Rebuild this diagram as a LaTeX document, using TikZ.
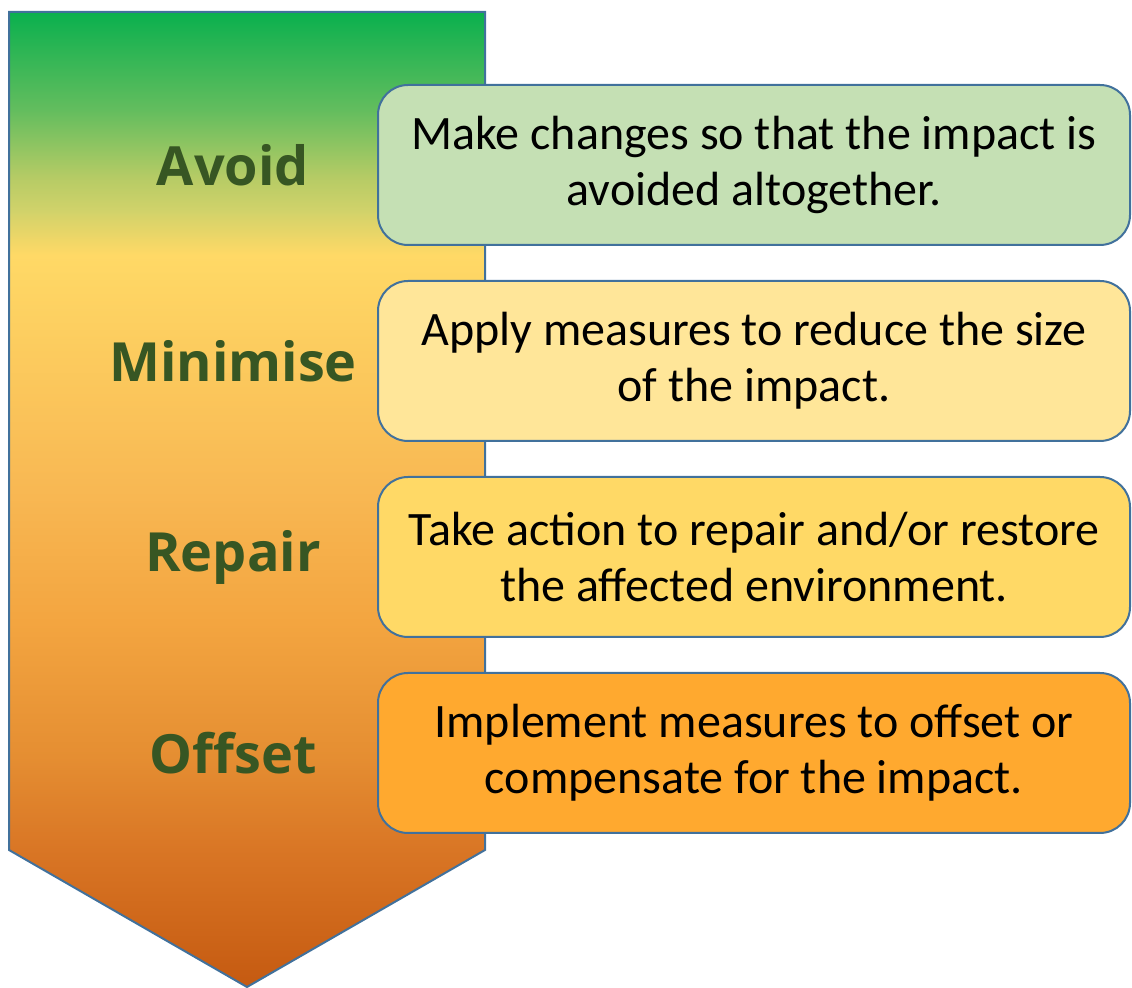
\documentclass[tikz,border=0pt]{standalone}
\usepackage{fontspec}
\setmainfont{Carlito}
\newfontfamily\stagefont{Open Sans}
\usepackage{xcolor}
\usetikzlibrary{positioning,calc}
\definecolor{edge}{HTML}{41719C}
\definecolor{stagec}{HTML}{375623}
\definecolor{avoidbg}{HTML}{C5E0B4}
\definecolor{minbg}{HTML}{FFE699}
\definecolor{repairbg}{HTML}{FFD966}
\definecolor{offsetbg}{HTML}{FFA92F}
% colour stops down the arrow, bottom to top
\definecolor{s0}{HTML}{C55A11}
\definecolor{s1}{HTML}{D97625}
\definecolor{s2}{HTML}{E58E32}
\definecolor{s3}{HTML}{F3A540}
\definecolor{s4}{HTML}{F8B853}
\definecolor{s5}{HTML}{FFD966}
\definecolor{s6}{HTML}{D0D26A}
\definecolor{s7}{HTML}{B5CB65}
\definecolor{s8}{HTML}{63BD5E}
\definecolor{s9}{HTML}{0AB04E}
\pgfdeclareverticalshading{descent}{100bp}{color(0bp)=(s0); color(25bp)=(s0);
  color(32.07bp)=(s1); color(36.83bp)=(s2); color(43.70bp)=(s3);
  color(50.51bp)=(s4); color(62.55bp)=(s5); color(64.86bp)=(s6);
  color(66.55bp)=(s7); color(69.98bp)=(s8); color(75bp)=(s9); color(100bp)=(s9)}
\tikzset{
  stepbox/.style={draw=edge,line width=1pt,rounded corners=15pt,
    minimum width=376pt,minimum height=80pt,align=center,
    font=\fontsize{24}{28}\selectfont,inner sep=4pt},
  stage/.style={font=\stagefont\bfseries\fontsize{27}{30}\selectfont,text=stagec},
  bigarrow/.style={draw=edge,line width=1pt,shading=descent},
}
\begin{document}
\begin{tikzpicture}[x=0.5pt,y=-0.5pt]
  \useasboundingbox (0,0) rectangle (1132,988);
  % the downward arrow
  \path[bigarrow] (9,12) -- (485,12) -- (485,850) -- (247,987) -- (9,850) -- cycle;
  \coordinate (mid) at (233,0);
  % the four steps
  \node[stepbox,fill=avoidbg] (a) at (754,165)
    {Make changes so that the impact is\\avoided altogether.};
  \node[stepbox,fill=minbg,below=17pt of a] (m)
    {Apply measures to reduce the size\\of the impact.};
  \node[stepbox,fill=repairbg,below=17pt of m] (r)
    {Take action to repair and/or restore\\the affected environment.};
  \node[stepbox,fill=offsetbg,below=17pt of r] (o)
    {Implement measures to offset or\\compensate for the impact.};
  \node[stage] at (mid |- a) {Avoid};
  \node[stage] at (mid |- m) {Minimise};
  \node[stage] at (mid |- r) {Repair};
  \node[stage] at (mid |- o) {Offset};
\end{tikzpicture}
\end{document}
